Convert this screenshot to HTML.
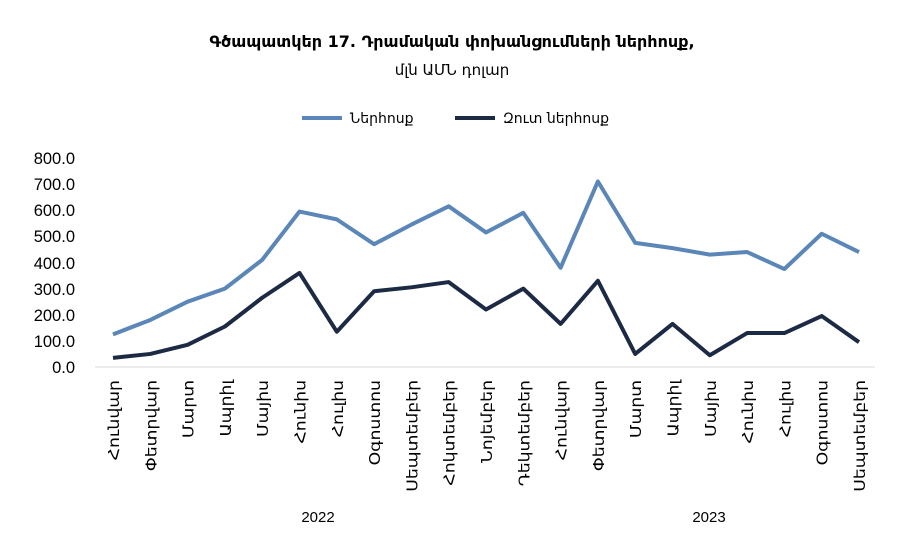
<!DOCTYPE html>
<html><head><meta charset="utf-8"><style>
html,body{margin:0;padding:0;background:#fff;}
svg{display:block;font-family:"DejaVu Sans","Liberation Sans",sans-serif;}
</style></head><body>
<svg width="900" height="554" viewBox="0 0 900 554">
<text x="452" y="47" text-anchor="middle" font-size="16" font-weight="bold" fill="#000">Գծապատկեր 17. Դրամական փոխանցումների ներհոսք,</text>
<text x="452" y="75" text-anchor="middle" font-size="15" fill="#000">մլն ԱՄՆ դոլար</text>
<line x1="302" y1="118" x2="342" y2="118" stroke="#5b86b8" stroke-width="4"/>
<text x="350" y="123" font-size="14" fill="#000">Ներհոսք</text>
<line x1="455" y1="118" x2="495" y2="118" stroke="#1c2a44" stroke-width="4"/>
<text x="503" y="123" font-size="14" fill="#000">Զուտ ներհոսք</text>
<g font-size="16.5" fill="#000" text-anchor="end" font-family="Liberation Sans,sans-serif">
<text x="75" y="373">0.0</text><text x="75" y="347">100.0</text><text x="75" y="321">200.0</text><text x="75" y="295">300.0</text><text x="75" y="269">400.0</text><text x="75" y="242">500.0</text><text x="75" y="216">600.0</text><text x="75" y="190">700.0</text><text x="75" y="164">800.0</text>
</g>
<line x1="95" y1="367" x2="875" y2="367" stroke="#d9d9d9" stroke-width="1"/>
<g font-size="15" fill="#000" text-anchor="end">
<text transform="translate(119,380) rotate(-90) scale(1.15,1)">Հունվար</text>
<text transform="translate(156.3,380) rotate(-90) scale(1.15,1)">Փետրվար</text>
<text transform="translate(193.6,380) rotate(-90) scale(1.15,1)">Մարտ</text>
<text transform="translate(230.9,380) rotate(-90) scale(1.15,1)">Ապրիլ</text>
<text transform="translate(268.2,380) rotate(-90) scale(1.15,1)">Մայիս</text>
<text transform="translate(305.5,380) rotate(-90) scale(1.15,1)">Հունիս</text>
<text transform="translate(342.8,380) rotate(-90) scale(1.15,1)">Հուլիս</text>
<text transform="translate(380.1,380) rotate(-90) scale(1.15,1)">Օգոստոս</text>
<text transform="translate(417.4,380) rotate(-90) scale(1.15,1)">Սեպտեմբեր</text>
<text transform="translate(454.7,380) rotate(-90) scale(1.15,1)">Հոկտեմբեր</text>
<text transform="translate(492,380) rotate(-90) scale(1.15,1)">Նոյեմբեր</text>
<text transform="translate(529.3,380) rotate(-90) scale(1.15,1)">Դեկտեմբեր</text>
<text transform="translate(566.6,380) rotate(-90) scale(1.15,1)">Հունվար</text>
<text transform="translate(603.9,380) rotate(-90) scale(1.15,1)">Փետրվար</text>
<text transform="translate(641.2,380) rotate(-90) scale(1.15,1)">Մարտ</text>
<text transform="translate(678.5,380) rotate(-90) scale(1.15,1)">Ապրիլ</text>
<text transform="translate(715.8,380) rotate(-90) scale(1.15,1)">Մայիս</text>
<text transform="translate(753.1,380) rotate(-90) scale(1.15,1)">Հունիս</text>
<text transform="translate(790.4,380) rotate(-90) scale(1.15,1)">Հուլիս</text>
<text transform="translate(827.7,380) rotate(-90) scale(1.15,1)">Օգոստոս</text>
<text transform="translate(865,380) rotate(-90) scale(1.15,1)">Սեպտեմբեր</text>
</g>
<text x="318" y="522" text-anchor="middle" font-size="15" font-family="Liberation Sans,sans-serif">2022</text>
<text x="709" y="522" text-anchor="middle" font-size="15" font-family="Liberation Sans,sans-serif">2023</text>
<polyline id="a" fill="none" stroke="#5b86b8" stroke-width="4" stroke-linejoin="round"/>
<polyline id="b" fill="none" stroke="#1c2a44" stroke-width="4" stroke-linejoin="round"/>
<script>
var A=[125,180,250,300,410,595,565,470,545,615,515,590,380,710,475,455,430,440,375,510,440];
var B=[35,50,85,155,265,360,135,290,305,325,220,300,165,330,50,165,45,130,130,195,95];
function X(i){return 113+i*37.3;}function Y(v){return 367-v*0.2613;}
document.getElementById('a').setAttribute('points',A.map(function(v,i){return X(i)+','+Y(v)}).join(' '));
document.getElementById('b').setAttribute('points',B.map(function(v,i){return X(i)+','+Y(v)}).join(' '));
</script>
</svg>
</body></html>
